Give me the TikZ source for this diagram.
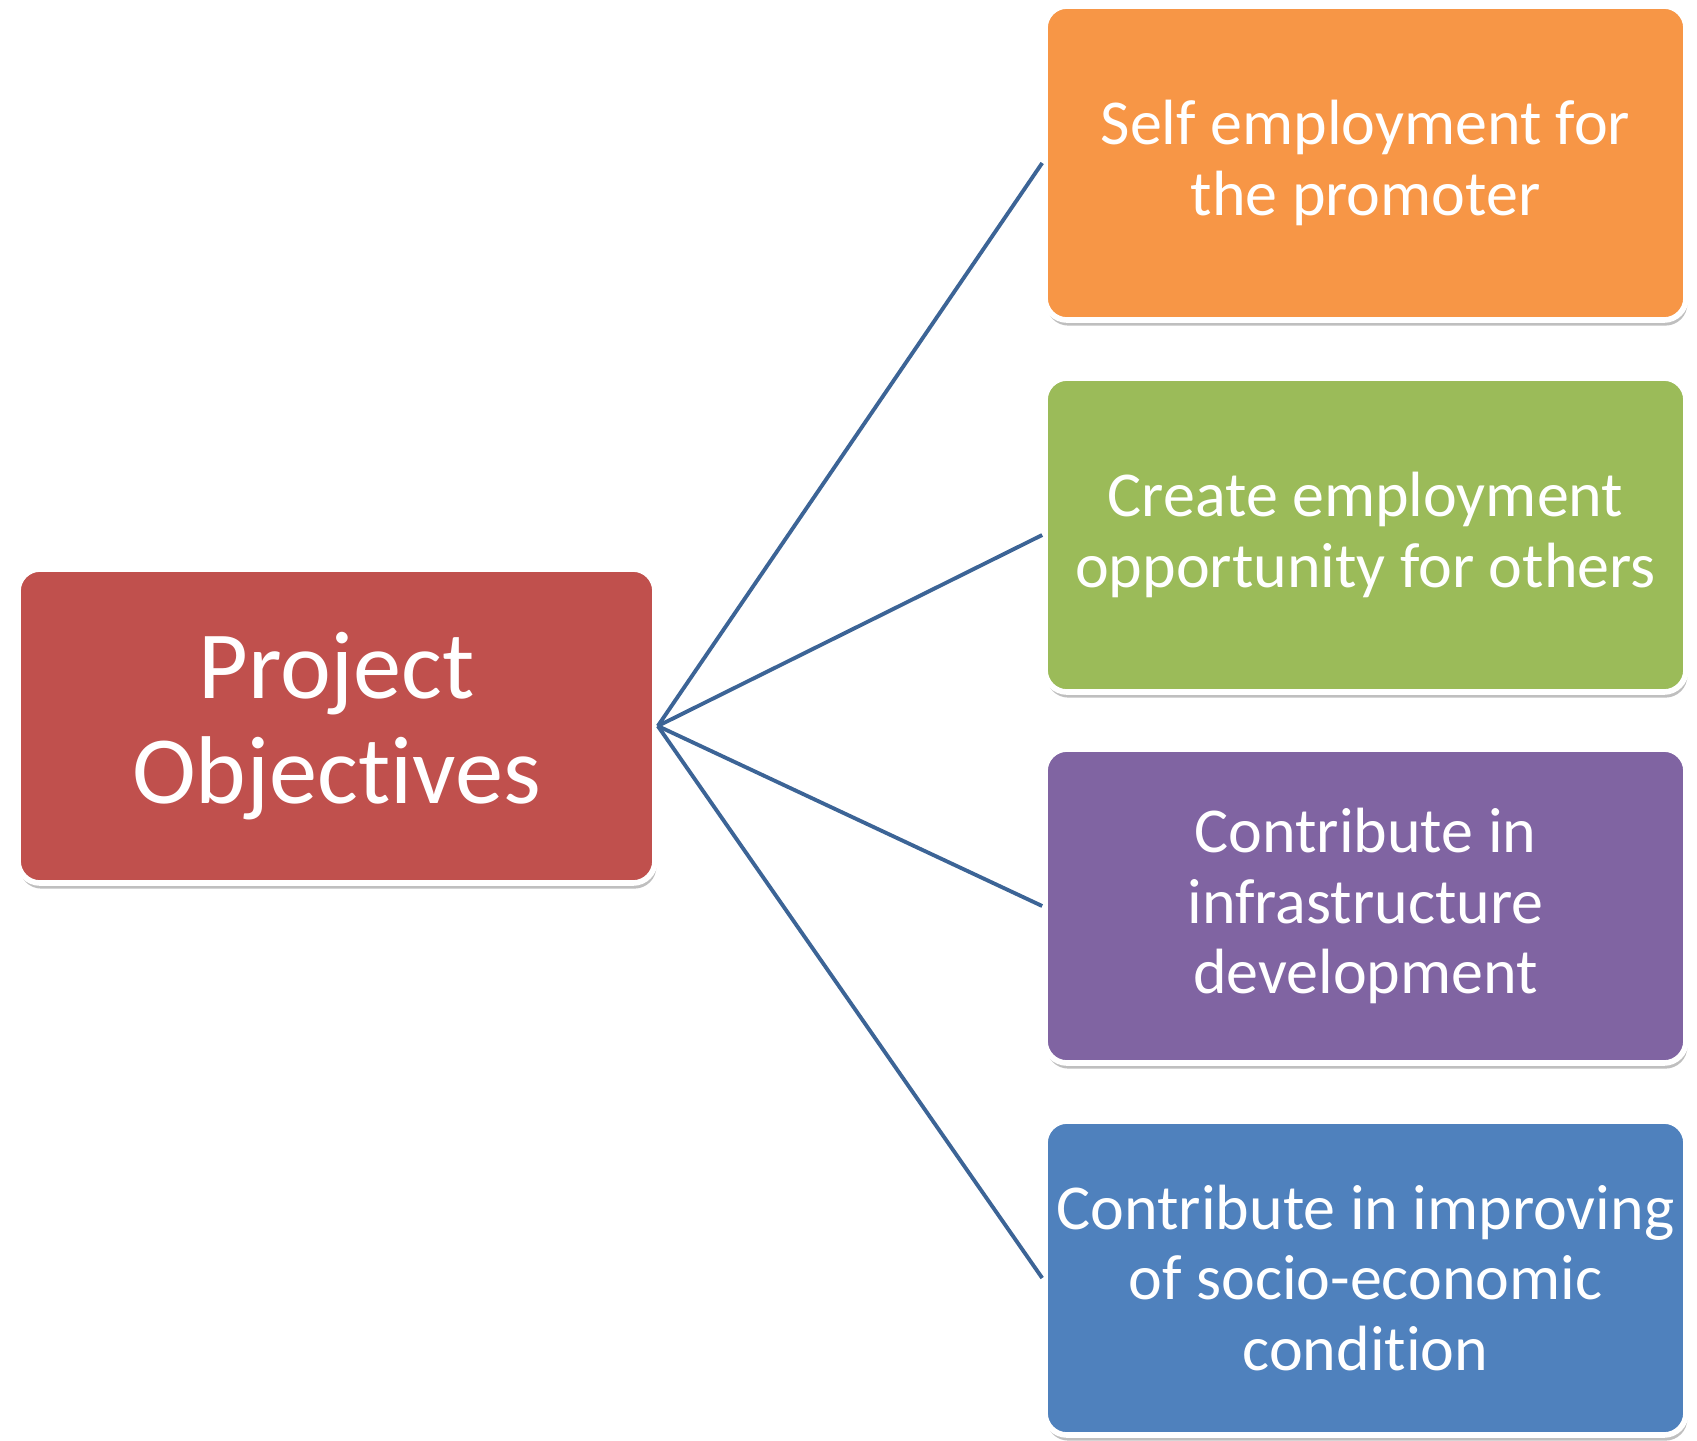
\documentclass[tikz,border=0pt]{standalone}
\usepackage{fontspec}
\setmainfont{Carlito}[Ligatures=NoCommon]
\usetikzlibrary{shadows}

\definecolor{objred}{HTML}{C0504D}
\definecolor{objorange}{HTML}{F79646}
\definecolor{objgreen}{HTML}{9BBB59}
\definecolor{objpurple}{HTML}{8064A2}
\definecolor{objblue}{HTML}{4F81BD}
\definecolor{linkblue}{HTML}{3C6496}

\tikzset{
  objbox/.style={rectangle, rounded corners=0.22cm, draw=white, line width=1.6pt,
    text=white, align=center, minimum width=6.41cm, minimum height=3.14cm,
    inner xsep=1pt, font=\fontsize{18.2}{20}\selectfont,
    drop shadow={shadow xshift=0.4pt, shadow yshift=-1.6pt, opacity=0.25, fill=black}},
  link/.style={draw=linkblue, line width=1.1pt}
}

\begin{document}
\begin{tikzpicture}
    \useasboundingbox (0,0) rectangle (16.97,-14.40);

    \node[objbox, fill=objred, minimum width=6.37cm, font=\fontsize{27.4}{30}\selectfont] (A) at (3.365,-7.26) {Project\\Objectives};

    \node[objbox, fill=objorange] (B) at (13.655,-1.63) {Self employment for\\the promoter};
    \node[objbox, fill=objgreen] (C) at (13.655,-5.35) {Create employment\\opportunity for others};
    \node[objbox, fill=objpurple] (D) at (13.655,-9.06) {Contribute in\\infrastructure\\development};
    \node[objbox, fill=objblue] (E) at (13.655,-12.78) {Contribute in improving\\of socio-economic\\condition};

    \draw[link] (A.east) -- (B.west);
    \draw[link] (A.east) -- (C.west);
    \draw[link] (A.east) -- (D.west);
    \draw[link] (A.east) -- (E.west);

\end{tikzpicture}
\end{document}
